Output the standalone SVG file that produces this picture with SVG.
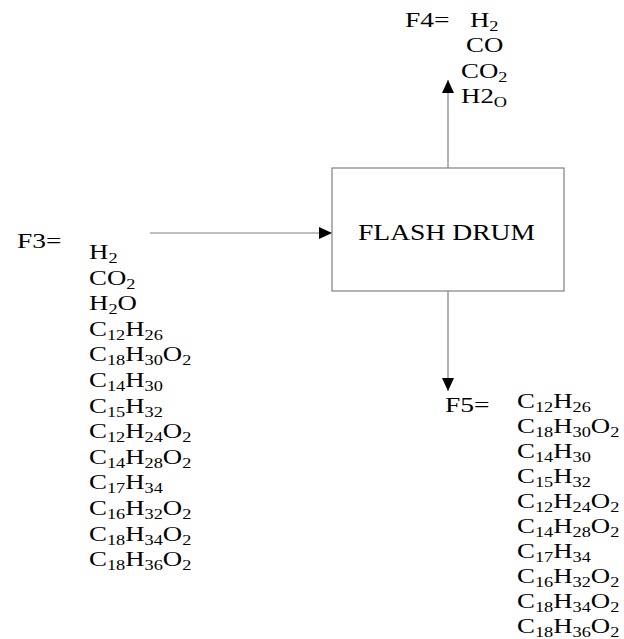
<svg xmlns="http://www.w3.org/2000/svg" width="624" height="639" viewBox="0 0 624 639">
<style>
text{font-family:"Liberation Serif","Times New Roman",serif;font-size:22px;fill:#000}
.s{font-size:15px}
.ln{stroke:#808080;stroke-width:1.2;fill:none}
</style>
<defs>
<marker id="ah" markerWidth="14" markerHeight="12" refX="13" refY="6" orient="auto" markerUnits="userSpaceOnUse">
<path d="M0,0 L13,6 L0,12 Z" fill="#000"/>
</marker>
</defs>
<rect width="624" height="639" fill="#fff"/>
<g id="connectors">
<line class="ln" x1="150" y1="233" x2="332" y2="233" marker-end="url(#ah)"/>
<line class="ln" x1="448" y1="168" x2="448" y2="80" marker-end="url(#ah)"/>
<line class="ln" x1="448" y1="291" x2="448" y2="391" marker-end="url(#ah)"/>
</g>
<g id="flash-drum">
<rect x="332" y="168" width="232" height="123" fill="#fff" stroke="#808080" stroke-width="1.2"/>
<text transform="translate(358,240) scale(1.2,1)" style="font-size:23px">FLASH DRUM</text>
</g>
<g id="f4">
<text transform="translate(405,27) scale(1.25,1)">F4=</text>
<g transform="scale(1.22,1)">
<text x="385.2" y="27">H<tspan class="s" dy="4">2</tspan></text>
<text x="382" y="52.5">CO</text>
<text x="377.9" y="78">CO<tspan class="s" dy="4">2</tspan></text>
<text x="377.9" y="103.5">H2<tspan class="s" dy="4">O</tspan></text>
</g>
</g>
<g id="f3">
<text transform="translate(17,248) scale(1.25,1)">F3=</text>
<g transform="translate(89,0) scale(1.22,1)">
<text x="0" y="259">H<tspan class="s" dy="4">2</tspan></text>
<text x="0" y="284.6">CO<tspan class="s" dy="4">2</tspan></text>
<text x="0" y="310.2">H<tspan class="s" dy="4">2</tspan><tspan dy="-4">O</tspan></text>
<text x="0" y="335.8">C<tspan class="s" dy="4">12</tspan><tspan dy="-4">H</tspan><tspan class="s" dy="4">26</tspan></text>
<text x="0" y="361.4">C<tspan class="s" dy="4">18</tspan><tspan dy="-4">H</tspan><tspan class="s" dy="4">30</tspan><tspan dy="-4">O</tspan><tspan class="s" dy="4">2</tspan></text>
<text x="0" y="387">C<tspan class="s" dy="4">14</tspan><tspan dy="-4">H</tspan><tspan class="s" dy="4">30</tspan></text>
<text x="0" y="412.6">C<tspan class="s" dy="4">15</tspan><tspan dy="-4">H</tspan><tspan class="s" dy="4">32</tspan></text>
<text x="0" y="438.2">C<tspan class="s" dy="4">12</tspan><tspan dy="-4">H</tspan><tspan class="s" dy="4">24</tspan><tspan dy="-4">O</tspan><tspan class="s" dy="4">2</tspan></text>
<text x="0" y="463.8">C<tspan class="s" dy="4">14</tspan><tspan dy="-4">H</tspan><tspan class="s" dy="4">28</tspan><tspan dy="-4">O</tspan><tspan class="s" dy="4">2</tspan></text>
<text x="0" y="489.4">C<tspan class="s" dy="4">17</tspan><tspan dy="-4">H</tspan><tspan class="s" dy="4">34</tspan></text>
<text x="0" y="515">C<tspan class="s" dy="4">16</tspan><tspan dy="-4">H</tspan><tspan class="s" dy="4">32</tspan><tspan dy="-4">O</tspan><tspan class="s" dy="4">2</tspan></text>
<text x="0" y="540.6">C<tspan class="s" dy="4">18</tspan><tspan dy="-4">H</tspan><tspan class="s" dy="4">34</tspan><tspan dy="-4">O</tspan><tspan class="s" dy="4">2</tspan></text>
<text x="0" y="566.2">C<tspan class="s" dy="4">18</tspan><tspan dy="-4">H</tspan><tspan class="s" dy="4">36</tspan><tspan dy="-4">O</tspan><tspan class="s" dy="4">2</tspan></text>
</g>
</g>
<g id="f5">
<text transform="translate(445,412) scale(1.25,1)">F5=</text>
<g transform="translate(517,0) scale(1.22,1)">
<text x="0" y="408.5">C<tspan class="s" dy="4">12</tspan><tspan dy="-4">H</tspan><tspan class="s" dy="4">26</tspan></text>
<text x="0" y="433.4">C<tspan class="s" dy="4">18</tspan><tspan dy="-4">H</tspan><tspan class="s" dy="4">30</tspan><tspan dy="-4">O</tspan><tspan class="s" dy="4">2</tspan></text>
<text x="0" y="458.3">C<tspan class="s" dy="4">14</tspan><tspan dy="-4">H</tspan><tspan class="s" dy="4">30</tspan></text>
<text x="0" y="483.2">C<tspan class="s" dy="4">15</tspan><tspan dy="-4">H</tspan><tspan class="s" dy="4">32</tspan></text>
<text x="0" y="508.1">C<tspan class="s" dy="4">12</tspan><tspan dy="-4">H</tspan><tspan class="s" dy="4">24</tspan><tspan dy="-4">O</tspan><tspan class="s" dy="4">2</tspan></text>
<text x="0" y="533">C<tspan class="s" dy="4">14</tspan><tspan dy="-4">H</tspan><tspan class="s" dy="4">28</tspan><tspan dy="-4">O</tspan><tspan class="s" dy="4">2</tspan></text>
<text x="0" y="557.9">C<tspan class="s" dy="4">17</tspan><tspan dy="-4">H</tspan><tspan class="s" dy="4">34</tspan></text>
<text x="0" y="582.8">C<tspan class="s" dy="4">16</tspan><tspan dy="-4">H</tspan><tspan class="s" dy="4">32</tspan><tspan dy="-4">O</tspan><tspan class="s" dy="4">2</tspan></text>
<text x="0" y="607.7">C<tspan class="s" dy="4">18</tspan><tspan dy="-4">H</tspan><tspan class="s" dy="4">34</tspan><tspan dy="-4">O</tspan><tspan class="s" dy="4">2</tspan></text>
<text x="0" y="632.6">C<tspan class="s" dy="4">18</tspan><tspan dy="-4">H</tspan><tspan class="s" dy="4">36</tspan><tspan dy="-4">O</tspan><tspan class="s" dy="4">2</tspan></text>
</g>
</g>
</svg>
